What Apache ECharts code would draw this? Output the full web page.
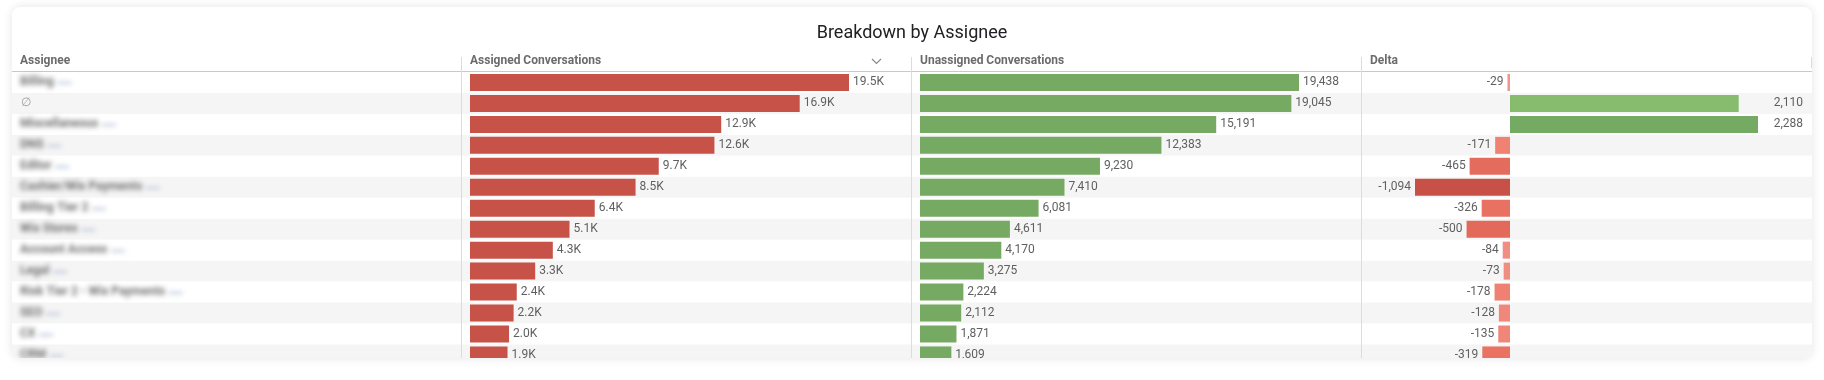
<!DOCTYPE html>
<html>
<head>
<meta charset="utf-8">
<script src="https://cdn.jsdelivr.net/npm/echarts@6/dist/echarts.min.js"></script>
<style>
  html, body { margin: 0; padding: 0; background: #ffffff; width: 1824px; height: 380px; overflow: hidden; }
  #card { position: absolute; left: 12px; top: 7px; width: 1800px; height: 351px; background: #fff;
          border-radius: 8px; box-shadow: 0 0 10px rgba(0,0,0,0.11); overflow: hidden; }
  #chart { position: absolute; left: 0; top: 0; width: 1800px; height: 380px; }
  #names { position: absolute; left: 0; top: 0; width: 440px; height: 380px; filter: blur(2.8px); pointer-events: none; }
</style>
</head>
<body>
<div id="card"><div id="chart"></div><div id="names"></div></div>
<script>
// ---- data ----
const title = 'Breakdown by Assignee';
const headers = ['Assignee', 'Assigned Conversations', 'Unassigned Conversations', 'Delta'];
const categories = ['Billing', '∅', 'Miscellaneous', 'DNS', 'Editor', 'Cashier/Wix Payments', 'Billing Tier 2',
  'Wix Stores', 'Account Access', 'Legal', 'Risk Tier 2 - Wix Payments', 'SEO', 'CX', 'CRM'];
const assigned = [19467, 16935, 12903, 12554, 9695, 8504, 6407, 5111, 4254, 3348, 2402, 2240, 2006, 1928];
const unassigned = [19438, 19045, 15191, 12383, 9230, 7410, 6081, 4611, 4170, 3275, 2224, 2112, 1871, 1609];
const delta = [-29, 2110, 2288, -171, -465, -1094, -326, -500, -84, -73, -178, -128, -135, -319];

// ---- layout (card coordinates) ----
const TOP = 65, ROWH = 20.96, H = ROWH * categories.length;
const FONT = 'Roboto, "Noto Sans", sans-serif';
const labelColor = '#5f5f5f';

function lerp(a, b, t) { return a + (b - a) * t; }
function scaleColor(stops, t) {
  t = Math.max(0, Math.min(1, t));
  for (let i = 1; i < stops.length; i++) {
    if (t <= stops[i][0]) {
      const s0 = stops[i - 1], s1 = stops[i];
      const k = (t - s0[0]) / (s1[0] - s0[0] || 1);
      return 'rgb(' + [0, 1, 2].map(j => Math.round(lerp(s0[1][j], s1[1][j], k))).join(',') + ')';
    }
  }
  const l = stops[stops.length - 1][1];
  return 'rgb(' + l.join(',') + ')';
}
const redStops = [[0, [242, 152, 142]], [0.16, [239, 129, 114]], [0.3, [233, 113, 97]], [0.46, [227, 106, 90]], [1, [199, 81, 70]]];
const greenStops = [[0, [180, 215, 160]], [0.92, [136, 187, 109]], [1, [117, 170, 98]]];
const negMax = Math.max(...delta.map(v => -v));
const posMax = Math.max(...delta);

const fmtK = v => (v / 1000).toFixed(1) + 'K';
const fmtN = v => Math.abs(v) >= 1000 ? v.toLocaleString('en-US') : String(v);

const gridBase = { top: TOP, height: H, containLabel: false, outerBoundsMode: 'none' };
const grids = [
  Object.assign({ left: 0, width: 1800 }, gridBase),       // row stripes
  Object.assign({ left: 458, width: 379 }, gridBase),      // assigned
  Object.assign({ left: 908, width: 379 }, gridBase),      // unassigned
  Object.assign({ left: 1403, width: 95 }, gridBase),      // delta negative
  Object.assign({ left: 1498, width: 248 }, gridBase)      // delta positive
];

function catAxis(gi, extra) {
  return Object.assign({
    type: 'category', gridIndex: gi, data: categories, inverse: true,
    axisLine: { show: false }, axisTick: { show: false }, axisLabel: { show: false },
    splitLine: { show: false }
  }, extra || {});
}
function valAxis(gi, min, max) {
  return { type: 'value', gridIndex: gi, min: min, max: max, show: false, splitLine: { show: false } };
}

const option = {
  animation: false,
  title: {
    text: title, left: 'center', top: 12,
    textStyle: { fontFamily: FONT, fontSize: 18, fontWeight: 'normal', color: '#202124' }
  },
  grid: grids,
  xAxis: [valAxis(0, 0, 1), valAxis(1, 0, Math.max(...assigned)), valAxis(2, 0, Math.max(...unassigned)),
          valAxis(3, -negMax, 0), valAxis(4, 0, posMax)],
  yAxis: [
    catAxis(0, {
      splitArea: { show: true, interval: 0, areaStyle: { color: ['#ffffff', '#f5f5f5'] } },
      axisLabel: {
        show: true, inside: true, margin: 9, interval: 0,
        fontFamily: FONT, fontSize: 12, color: '#a0a0a0',
        formatter: v => v === '∅' ? '∅' : ''
      }
    }),
    catAxis(1), catAxis(2), catAxis(3),
    catAxis(4, {
      position: 'right',
      axisLabel: {
        show: true, interval: 0, align: 'right', margin: 45,
        fontFamily: FONT, fontSize: 12, color: labelColor,
        formatter: (v, i) => delta[i] > 0 ? fmtN(delta[i]) : ''
      }
    })
  ],
  series: [
    {
      type: 'bar', xAxisIndex: 1, yAxisIndex: 1, data: assigned, barWidth: 17,
      itemStyle: { color: '#c75248' },
      label: { show: true, position: 'right', distance: 4, fontFamily: FONT, fontSize: 12, color: labelColor,
               formatter: p => fmtK(p.value) }
    },
    {
      type: 'bar', xAxisIndex: 2, yAxisIndex: 2, data: unassigned, barWidth: 17,
      itemStyle: { color: '#76aa63' },
      label: { show: true, position: 'right', distance: 4, fontFamily: FONT, fontSize: 12, color: labelColor,
               formatter: p => fmtN(p.value) }
    },
    {
      type: 'bar', xAxisIndex: 3, yAxisIndex: 3, barWidth: 17,
      data: delta.map(v => v < 0 ? v : '-'),
      itemStyle: { color: p => scaleColor(redStops, -p.value / negMax) },
      label: { show: true, position: 'left', distance: 4, fontFamily: FONT, fontSize: 12, color: labelColor,
               formatter: p => fmtN(p.value) }
    },
    {
      type: 'bar', xAxisIndex: 4, yAxisIndex: 4, barWidth: 17,
      data: delta.map(v => v > 0 ? v : '-'),
      itemStyle: { color: p => scaleColor(greenStops, p.value / posMax) }
    }
  ],
  graphic: [
    ...headers.map((h, i) => ({
      type: 'text', z: 20, x: [8, 458, 908, 1358][i], y: 54,
      style: { text: h, fontFamily: FONT, fontSize: 12, fontWeight: 'bold', fill: '#6b6b6b', align: 'left', verticalAlign: 'middle' }
    })),
    { type: 'polyline', z: 20, shape: { points: [[860, 52], [864.5, 56.5], [869, 52]] },
      style: { stroke: '#8a8a8a', lineWidth: 1.2, fill: null } },
    { type: 'line', z: 20, shape: { x1: 0, y1: 64.5, x2: 1800, y2: 64.5 }, style: { stroke: '#c9c9c9', lineWidth: 1.2 } },
    ...[449.5, 899.5, 1349.5].map(x => ({
      type: 'line', z: 20, shape: { x1: x, y1: 50, x2: x, y2: 380 }, style: { stroke: '#dcdcdc', lineWidth: 1 }
    })),
    { type: 'line', z: 20, shape: { x1: 1799.5, y1: 50, x2: 1799.5, y2: 61 }, style: { stroke: '#dcdcdc', lineWidth: 1 } }
  ]
};

const chart = echarts.init(document.getElementById('chart'), null, { renderer: 'canvas' });
chart.setOption(option);

// blurred assignee names (as in the reference, where the names are obscured)
const namesChart = echarts.init(document.getElementById('names'), null, { renderer: 'canvas' });
namesChart.setOption({
  animation: false,
  grid: { left: 0, width: 440, top: TOP, height: H, outerBoundsMode: 'none' },
  xAxis: { type: 'value', show: false },
  yAxis: {
    type: 'category', data: categories, inverse: true,
    axisLine: { show: false }, axisTick: { show: false }, splitLine: { show: false },
    axisLabel: {
      inside: true, margin: 8, interval: 0,
      formatter: v => v === '∅' ? '' : '{n|' + v + '}{b|  ▬▬}',
      rich: {
        n: { fontFamily: FONT, fontSize: 12, fontWeight: 'bold', color: '#707070' },
        b: { fontFamily: FONT, fontSize: 7, color: '#b3c0d6' }
      }
    }
  }
});
</script>
</body>
</html>
